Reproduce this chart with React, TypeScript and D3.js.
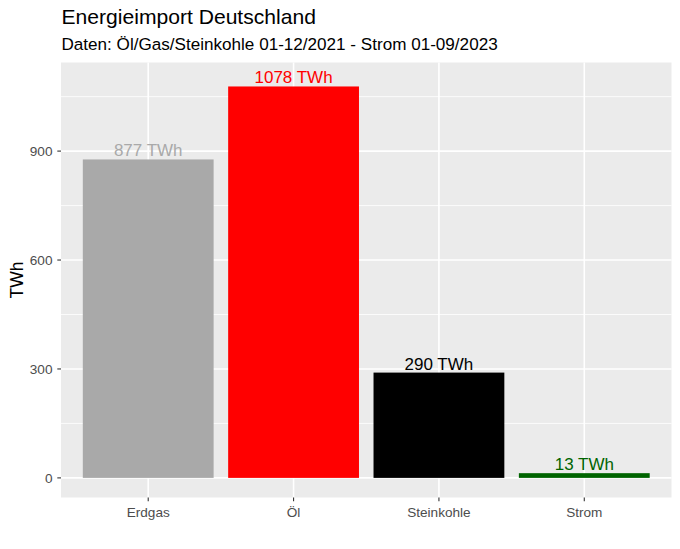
import React from "react";
import * as d3 from "d3";

const categories = ["Erdgas", "Öl", "Steinkohle", "Strom"];
const values = [877, 1078, 290, 13];
const labels = ["877 TWh", "1078 TWh", "290 TWh", "13 TWh"];
const colors = ["#A9A9A9", "#FF0000", "#000000", "#006400"];
const yTicks = [0, 300, 600, 900];
const yMinor = [150, 450, 750, 1050];

const W = 680, H = 549;
const pL = 61, pR = 671.5, pT = 62.5, pB = 497.5;
const font = "'Liberation Sans', Arial, Helvetica, sans-serif";

export default function App() {
  const x = d3.scaleLinear().domain([0.4, categories.length + 0.6]).range([pL, pR]);
  const y = d3.scaleLinear().domain([-54, 1144]).range([pB, pT]);
  const bw = (x(1.45) - x(0.55));
  return (
    <svg width={W} height={H} style={{ position: "absolute", left: 0, top: 0, background: "#fff" }}>
      <rect x={0} y={0} width={W} height={H} fill="#fff" />
      <text x={61.5} y={24} fontFamily={font} fontSize={21.1} fill="#000">Energieimport Deutschland</text>
      <text x={61.5} y={49.5} fontFamily={font} fontSize={17.1} fill="#000">Daten: Öl/Gas/Steinkohle 01-12/2021 - Strom 01-09/2023</text>
      <rect x={pL} y={pT} width={pR - pL} height={pB - pT} fill="#EBEBEB" />
      {yMinor.map((v) => (
        <line key={"ym" + v} x1={pL} x2={pR} y1={y(v)} y2={y(v)} stroke="#fff" strokeWidth={0.8} />
      ))}
      {yTicks.map((v) => (
        <line key={"yM" + v} x1={pL} x2={pR} y1={y(v)} y2={y(v)} stroke="#fff" strokeWidth={1.6} />
      ))}
      {categories.map((c, i) => (
        <line key={"xM" + c} x1={x(i + 1)} x2={x(i + 1)} y1={pT} y2={pB} stroke="#fff" strokeWidth={1.6} />
      ))}
      {categories.map((c, i) => (
        <rect key={"b" + c} x={x(i + 1) - bw / 2} width={bw} y={y(values[i])} height={y(0) - y(values[i])} fill={colors[i]} />
      ))}
      {categories.map((c, i) => (
        <text key={"l" + c} x={x(i + 1)} y={y(values[i]) - 3} textAnchor="middle" fontFamily={font} fontSize={17} fill={colors[i]}>{labels[i]}</text>
      ))}
      {yTicks.map((v) => (
        <g key={"yt" + v}>
          <line x1={pL - 3.7} x2={pL} y1={y(v)} y2={y(v)} stroke="#333" strokeWidth={1.1} />
          <text x={52.5} y={y(v)} dy="0.36em" textAnchor="end" fontFamily={font} fontSize={13.6} fill="#4D4D4D">{v}</text>
        </g>
      ))}
      {categories.map((c, i) => (
        <g key={"xt" + c}>
          <line x1={x(i + 1)} x2={x(i + 1)} y1={pB} y2={pB + 3.7} stroke="#333" strokeWidth={1.1} />
          <text x={x(i + 1)} y={516.8} textAnchor="middle" fontFamily={font} fontSize={13.6} fill="#4D4D4D">{c}</text>
        </g>
      ))}
      <text transform={`translate(22.7, ${(pT + pB) / 2}) rotate(-90)`} textAnchor="middle" fontFamily={font} fontSize={17.5} fill="#000">TWh</text>
    </svg>
  );
}
